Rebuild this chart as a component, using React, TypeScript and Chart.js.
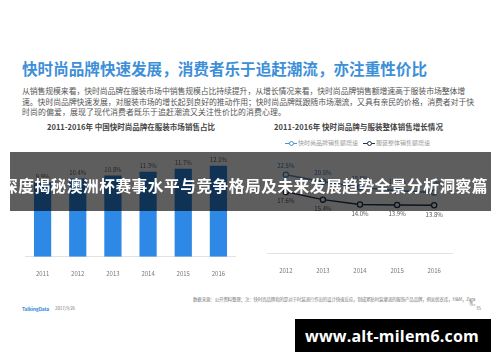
import React, { useEffect, useLayoutEffect, useRef } from "react";
import { Chart, registerables } from "chart.js";

Chart.register(...registerables);

// ---- data ----
const barYears = ["2011", "2012", "2013", "2014", "2015", "2016"];
const barShare = [9.9, 10.4, 10.8, 11.3, 11.7, 12.1];

const lineYears = ["2012", "2013", "2014", "2015", "2016"];
const fastFashionGrowth = [22.5, 20.5, 18.9, 17.9, 17.4];
const apparelGrowth = [17.6, 15.4, 14.0, 13.9, 13.8];

const seriesNames = ["快时尚品牌销售额增速", "服装整体销售额增速"];

const FONT = '"Noto Sans CJK SC", "Noto Sans", sans-serif';

const valueLabels = {
  id: "valueLabels",
  afterDatasetsDraw(chart: any, _args: any, opts: any) {
    const ctx = chart.ctx;
    const cfgs = opts.items || [];
    chart.data.datasets.forEach((ds: any, i: number) => {
      const cfg = cfgs[i];
      if (!cfg) return;
      const meta = chart.getDatasetMeta(i);
      ctx.save();
      ctx.font = `${cfg.size}px ${FONT}`;
      ctx.fillStyle = cfg.color;
      ctx.textAlign = "center";
      ctx.textBaseline = "middle";
      meta.data.forEach((el: any, j: number) => {
        ctx.fillText(Number(ds.data[j]).toFixed(1) + "%", el.x, el.y + cfg.dy);
      });
      ctx.restore();
    });
  },
};

function BarChart() {
  const ref = useRef<HTMLCanvasElement>(null);
  useEffect(() => {
    const chart = new Chart(ref.current as HTMLCanvasElement, {
      type: "bar",
      data: {
        labels: barYears,
        datasets: [
          {
            data: barShare,
            backgroundColor: "#2d89e5",
            barPercentage: 0.49,
            categoryPercentage: 1,
          },
        ],
      },
      options: {
        animation: false,
        responsive: false,
        layout: { padding: 0 },
        plugins: {
          legend: { display: false },
          tooltip: { enabled: false },
          valueLabels: { items: [{ size: 6, color: "#666", dy: -6 }] },
        } as any,
        scales: {
          x: {
            grid: { display: false },
            border: { display: true, color: "#e2e2e2" },
            ticks: { color: "#777", font: { size: 6, family: FONT }, padding: 5 },
          },
          y: { display: false, min: 0, max: 14.2 },
        },
      },
      plugins: [valueLabels],
    });
    return () => chart.destroy();
  }, []);
  return (
    <canvas
      ref={ref}
      width={211}
      height={132}
      style={{ position: "absolute", left: 25, top: 150, width: 211, height: 132 }}
    />
  );
}

function LineChart() {
  const ref = useRef<HTMLCanvasElement>(null);
  useEffect(() => {
    const chart = new Chart(ref.current as HTMLCanvasElement, {
      type: "line",
      data: {
        labels: lineYears,
        datasets: [
          {
            label: seriesNames[0],
            data: fastFashionGrowth,
            borderColor: "#4a93d4",
            backgroundColor: "#ffffff",
            borderWidth: 1.5,
            pointRadius: 2.6,
            pointBorderWidth: 1.3,
            pointBackgroundColor: "#ffffff",
            pointBorderColor: "#4a93d4",
            tension: 0,
          },
          {
            label: seriesNames[1],
            data: apparelGrowth,
            borderColor: "#1f3550",
            backgroundColor: "#ffffff",
            borderWidth: 1.5,
            pointRadius: 2.6,
            pointBorderWidth: 1.3,
            pointBackgroundColor: "#ffffff",
            pointBorderColor: "#1f3550",
            tension: 0,
          },
        ],
      },
      options: {
        animation: false,
        responsive: false,
        layout: { padding: 0 },
        plugins: {
          legend: { display: false },
          tooltip: { enabled: false },
          valueLabels: {
            items: [
              { size: 6, color: "#3a78b8", dy: -9 },
              { size: 6, color: "#555", dy: 9 },
            ],
          },
        } as any,
        scales: {
          x: {
            offset: true,
            grid: { display: false },
            border: { display: true, color: "#e2e2e2" },
            ticks: { color: "#777", font: { size: 6, family: FONT }, padding: 5 },
          },
          y: { display: false, min: 0, max: 28 },
        },
      },
      plugins: [valueLabels],
    });
    return () => chart.destroy();
  }, []);
  return (
    <canvas
      ref={ref}
      width={196}
      height={129}
      style={{ position: "absolute", left: 262, top: 150, width: 196, height: 129 }}
    />
  );
}

// Text placed at an exact span: letter spacing is tuned so it fills the measured width
function FitText({
  text,
  left,
  width,
  cy,
  size,
  color,
  weight = 400,
  family = FONT,
}: {
  text: string;
  left: number;
  width: number;
  cy: number;
  size: number;
  color: string;
  weight?: number;
  family?: string;
}) {
  const ref = useRef<HTMLSpanElement>(null);
  useLayoutEffect(() => {
    const el = ref.current;
    if (!el) return;
    el.style.letterSpacing = "0px";
    const w = el.getBoundingClientRect().width;
    const n = Array.from(text).length;
    if (n > 1) el.style.letterSpacing = `${(width - w) / n}px`;
  }, [text, width]);
  return (
    <span
      ref={ref}
      style={{
        position: "absolute",
        left,
        top: cy - size / 2,
        fontSize: size,
        lineHeight: 1,
        color,
        fontWeight: weight,
        fontFamily: family,
        whiteSpace: "nowrap",
      }}
    >
      {text}
    </span>
  );
}

function LegendItem({ color, text, left }: { color: string; text: string; left: number }) {
  return (
    <div style={{ position: "absolute", left, top: 139, height: 8, display: "flex", alignItems: "center" }}>
      <div style={{ position: "relative", width: 12, height: 8 }}>
        <div style={{ position: "absolute", left: 0, top: 3.5, width: 12, height: 1.2, background: color }} />
        <div
          style={{
            position: "absolute",
            left: 3.5,
            top: 2,
            width: 3,
            height: 3,
            borderRadius: "50%",
            border: `1px solid ${color}`,
            background: "#fff",
          }}
        />
      </div>
      <span style={{ fontSize: 6, color: "#999", marginLeft: 1, lineHeight: 1, whiteSpace: "nowrap" }}>{text}</span>
    </div>
  );
}

export default function App() {
  return (
    <div
      style={{
        position: "fixed",
        left: 0,
        top: 0,
        width: 500,
        height: 362,
        background: "#ffffff",
        overflow: "hidden",
        fontFamily: FONT,
      }}
    >
      <FitText
        text="快时尚品牌快速发展，消费者乐于追赶潮流，亦注重性价比"
        left={22}
        width={405}
        cy={69}
        size={15.6}
        weight={700}
        color="#3d8fd8"
      />
      <FitText
        text="从销售规模来看，快时尚品牌在服装市场中销售规模占比持续提升，从增长情况来看，快时尚品牌销售额增速高于服装市场整体增"
        left={22}
        width={443}
        cy={91}
        size={7.9}
        color="#555"
      />
      <FitText
        text="速。快时尚品牌快速发展，对服装市场的增长起到良好的推动作用；快时尚品牌既跟随市场潮流，又具有亲民的价格，消费者对于快"
        left={22}
        width={452}
        cy={102}
        size={7.9}
        color="#555"
      />
      <FitText
        text="时尚的偏爱，展现了现代消费者既乐于追赶潮流又关注性价比的消费心理。"
        left={22}
        width={264}
        cy={112}
        size={7.9}
        color="#555"
      />

      <FitText
        text="2011-2016年 中国快时尚品牌在服装市场销售占比"
        left={47}
        width={168}
        cy={127}
        size={7.5}
        weight={700}
        color="#444"
      />
      <FitText
        text="2011-2016年 快时尚品牌与服装整体销售增长情况"
        left={274}
        width={169}
        cy={127}
        size={7.5}
        weight={700}
        color="#444"
      />
      <LegendItem color="#4a93d4" text={seriesNames[0]} left={285} />
      <LegendItem color="#1f3550" text={seriesNames[1]} left={363} />

      <BarChart />
      <LineChart />

      <FitText text="TalkingData" left={22} width={27} cy={308} size={5} weight={700} color="#3d8fd8" />
      <FitText text="2017/9/26" left={55} width={20} cy={308} size={4.5} color="#777" />
      <FitText
        text="数据来源：公开资料整理；注：快时尚品牌指的是对于时装流行作出的设计快速反应，制成紧贴时装潮流的服饰产品品牌，例如优衣库，H&M，Zara"
        left={193}
        width={282}
        cy={299}
        size={4.5}
        color="#777"
      />
      <FitText text="等。" left={469} width={9} cy={303.5} size={4.5} color="#777" />
      <FitText text="35" left={476} width={5} cy={308} size={4.5} color="#777" />

      <div
        style={{
          position: "absolute",
          left: 10,
          top: 152,
          width: 481,
          height: 59,
          background: "rgba(0,0,0,0.63)",
        }}
      />
      <FitText
        text="深度揭秘澳洲杯赛事水平与竞争格局及未来发展趋势全景分析洞察篇"
        left={2}
        width={486}
        cy={186}
        size={15.7}
        weight={700}
        color="#fff"
      />

      <div
        style={{
          position: "absolute",
          left: 295,
          top: 319,
          width: 196,
          height: 33,
          background: "#000",
        }}
      />
      <FitText
        text="www.alt-milem6.com"
        left={305}
        width={174}
        cy={336}
        size={16}
        weight={700}
        color="#fff"
        family='"Open Sans", sans-serif'
      />
    </div>
  );
}
